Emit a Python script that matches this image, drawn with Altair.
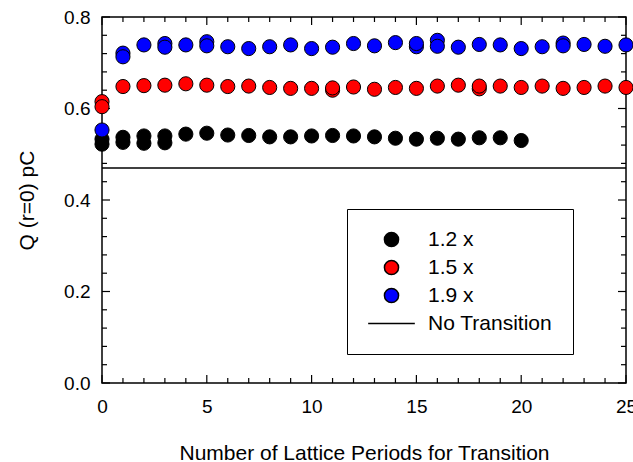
import altair as alt
import pandas as pd

FONT = "Liberation Sans"
W, H = 524, 366

periods = list(range(26))

# Q(r=0) in pC versus number of lattice periods used for the transition
q_12 = [0.533, 0.537, 0.540, 0.540, 0.544, 0.546, 0.542, 0.541, 0.538, 0.538,
        0.540, 0.541, 0.540, 0.538, 0.535, 0.533, 0.535, 0.533, 0.536, 0.536,
        0.530]
q_15 = [0.604, 0.648, 0.650, 0.651, 0.654, 0.651, 0.648, 0.649, 0.646, 0.644,
        0.644, 0.645, 0.647, 0.642, 0.646, 0.644, 0.649, 0.651, 0.649, 0.649,
        0.646, 0.649, 0.644, 0.646, 0.649, 0.646]
q_19 = [0.553, 0.713, 0.739, 0.734, 0.739, 0.737, 0.735, 0.731, 0.735, 0.739,
        0.731, 0.734, 0.742, 0.737, 0.744, 0.742, 0.736, 0.734, 0.740, 0.739,
        0.731, 0.735, 0.737, 0.740, 0.736, 0.739]

# repeated runs that sit behind the main points
q_12_rep_x = [0, 1, 2, 3]
q_12_rep = [0.522, 0.526, 0.524, 0.525]
q_15_rep_x = [0, 11, 18]
q_15_rep = [0.615, 0.640, 0.643]
q_19_rep_x = [1, 3, 5, 15, 16, 22]
q_19_rep = [0.721, 0.742, 0.746, 0.735, 0.749, 0.743]

q_no_transition = 0.47

series_names = ["1.2 x", "1.5 x", "1.9 x", "No Transition"]
series_fill = ["#000000", "#ff0000", "#0000ff", "#000000"]
series_shape = ["circle", "circle", "circle", "M-3.3,0H3.3"]

x_labels = [0, 5, 10, 15, 20, 25]
y_labels = [0.0, 0.2, 0.4, 0.6, 0.8]
x_minor = list(range(26))
y_minor = [round(0.04 * i, 2) for i in range(21)]

rows = []
for xs, ys, name in [
    (q_12_rep_x, q_12_rep, "1.2 x"),
    (q_15_rep_x, q_15_rep, "1.5 x"),
    (q_19_rep_x, q_19_rep, "1.9 x"),
    (periods[:len(q_12)], q_12, "1.2 x"),
    (periods, q_15, "1.5 x"),
    (periods, q_19, "1.9 x"),
]:
    for xv, yv in zip(xs, ys):
        rows.append({"period": xv, "q": yv, "series": name})
points_df = pd.DataFrame(rows)

xscale = alt.Scale(domain=[0, 25], nice=False, zero=False)
yscale = alt.Scale(domain=[0, 0.8], nice=False, zero=True)

legend = alt.Legend(
    title=None, orient="none", legendX=245, legendY=192,
    padding=20, strokeColor="black", fillColor="white",
    labelFont=FONT, labelFontSize=21, labelColor="black",
    symbolSize=200, symbolStrokeColor="black", symbolStrokeWidth=1.5,
    symbolOffset=14, labelOffset=26, rowPadding=6,
)

points = alt.Chart(points_df).mark_point(
    filled=True, size=200, stroke="black", strokeWidth=1, opacity=1
).encode(
    x=alt.X("period:Q", scale=xscale, title="Number of Lattice Periods for Transition",
            axis=alt.Axis(values=x_labels, ticks=False, tickSize=0, domain=False, grid=False,
                          labelFlush=False, labelPadding=14, titleY=70,
                          titleBaseline="middle")),
    y=alt.Y("q:Q", scale=yscale, title="Q (r=0) pC",
            axis=alt.Axis(values=y_labels, format=".1f", ticks=False, tickSize=0,
                          domain=False, grid=False, labelFlush=False, labelPadding=12,
                          titleX=-75, titleBaseline="middle")),
    color=alt.Color("series:N", scale=alt.Scale(domain=series_names, range=series_fill),
                    legend=legend),
    shape=alt.Shape("series:N", scale=alt.Scale(domain=series_names, range=series_shape),
                    legend=legend),
)

baseline = alt.Chart(pd.DataFrame({"period": [0], "period_end": [25], "q": [q_no_transition]})).mark_rule(
    color="black", strokeWidth=1.5
).encode(
    x=alt.X("period:Q", scale=xscale),
    x2="period_end:Q",
    y=alt.Y("q:Q", scale=yscale),
)


def x_ticks(values, length):
    df = pd.DataFrame({"period": values})
    bottom = alt.Chart(df).mark_rule(color="black", strokeWidth=1.2).encode(
        x=alt.X("period:Q", scale=xscale), y=alt.value(H), y2=alt.value(H - length))
    top = alt.Chart(df).mark_rule(color="black", strokeWidth=1.2).encode(
        x=alt.X("period:Q", scale=xscale), y=alt.value(0), y2=alt.value(length))
    return [bottom, top]


def y_ticks(values, length):
    df = pd.DataFrame({"q": values})
    left = alt.Chart(df).mark_rule(color="black", strokeWidth=1.2).encode(
        y=alt.Y("q:Q", scale=yscale), x=alt.value(0), x2=alt.value(length))
    right = alt.Chart(df).mark_rule(color="black", strokeWidth=1.2).encode(
        y=alt.Y("q:Q", scale=yscale), x=alt.value(W), x2=alt.value(W - length))
    return [left, right]


x_major = [v for v in x_minor if v % 5 == 0]
x_small = [v for v in x_minor if v % 5 != 0]
y_major = [v for v in y_minor if abs(v / 0.2 - round(v / 0.2)) < 1e-6]
y_small = [v for v in y_minor if v not in y_major]

tick_layers = x_ticks(x_major, 8) + x_ticks(x_small, 5) + y_ticks(y_major, 8) + y_ticks(y_small, 5)

chart = alt.layer(baseline, *tick_layers, points).properties(
    width=W, height=H,
    autosize=alt.AutoSizeParams(type="none"),
    padding={"left": 102, "top": 17, "right": 7, "bottom": 79},
    background="white",
).configure_view(
    stroke="black", strokeWidth=1.5
).configure_axis(
    labelFont=FONT, labelFontSize=19, labelColor="black",
    titleFont=FONT, titleFontSize=21, titleFontWeight="normal", titleColor="black",
)

chart.save("out.html", embed_options={"renderer": "svg", "actions": False})
